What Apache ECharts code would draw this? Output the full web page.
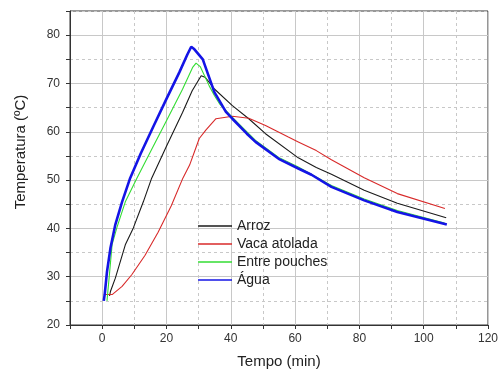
<!DOCTYPE html>
<html>
<head>
<meta charset="utf-8">
<script src="https://cdn.jsdelivr.net/npm/echarts@6/dist/echarts.min.js"></script>
<style>
  html, body { margin: 0; padding: 0; background: #fff; }
  #chart { width: 501px; height: 374px; }
</style>
</head>
<body>
<div id="chart"></div>
<script>
  // curvas de temperatura
  const arrozT    = [2.3, 2.6, 4.1, 7.2, 9.7, 12.8, 15.4, 20, 25, 28, 30.8, 32, 35, 40.5, 45.6, 50.8, 61, 66.6, 71.3, 81.5, 91.8, 107];
  const arrozTemp = [26, 27, 29.7, 36.6, 40.1, 45.5, 50.4, 57, 64, 68.5, 71.6, 71.3, 68.8, 65.4, 62.7, 59.6, 54.6, 52.6, 51.2, 47.9, 45.2, 42.2];

  const vacaT    = [0.5, 3.1, 6.2, 9.2, 13.3, 17.4, 21.5, 25.1, 27.2, 30.2, 32.3, 35.4, 40.5, 45.6, 50.8, 57.9, 61, 66.6, 71.3, 81.5, 91.8, 106.6];
  const vacaTemp = [26.3, 26.3, 28, 30.4, 34.4, 39.2, 44.7, 50.4, 53.1, 58.6, 60.4, 62.7, 63.2, 62.8, 61.3, 58.9, 57.9, 56.1, 54.2, 50.5, 47.2, 44.1];

  const entreT    = [1.5, 2.2, 3.1, 4.6, 7.2, 10.8, 15.9, 20, 25, 28.2, 29.2, 30.5, 33.3, 34.9, 36.5, 40.5, 47.7, 54.9, 61, 71.3, 81.5, 91.8, 106.5];
  const entreTemp = [25, 30, 36.7, 40.2, 45.5, 50.4, 57, 62.3, 68.8, 73.4, 74.2, 73.5, 69.5, 67.5, 65.8, 63, 58.2, 54.7, 52.7, 48.9, 46.1, 43.7, 41.1];

  const aguaT    = [0.5, 0.8, 1.5, 2.6, 4.1, 6.2, 8.7, 12, 16, 20, 24, 26.5, 27.7, 28.5, 31.3, 34.9, 38.5, 40.5, 45, 47.7, 54.9, 61, 65.1, 71.3, 81.5, 91.8, 107.2];
  const aguaTemp = [25, 26.4, 31, 36, 40.8, 45.5, 50.4, 55.5, 61.2, 66.8, 72.3, 76, 77.6, 77.2, 75, 68.2, 64.1, 62.7, 59.6, 57.9, 54.4, 52.4, 51.1, 48.6, 45.8, 43.4, 40.8];

  const seriesNames = ['Arroz', 'Vaca atolada', 'Entre pouches', 'Água'];
  const seriesColors = ['#1a1a1a', '#d82a2a', '#33dd33', '#1414e6'];

  const font = "'Liberation Sans', Arial, sans-serif";

  function pairs(xs, ys) {
    return xs.map((x, i) => [x, ys[i]]);
  }

  const curves = [
    pairs(arrozT, arrozTemp),
    pairs(vacaT, vacaTemp),
    pairs(entreT, entreTemp),
    pairs(aguaT, aguaTemp)
  ];

  var chartDom = document.getElementById('chart');
  var chart = echarts.init(chartDom);

  const option = {
    animation: false,
    grid: {
      left: 70, right: 7, top: 11, bottom: 47,
      show: true, borderColor: '#333', borderWidth: 1
    },
    legend: {
      orient: 'vertical',
      left: 193, top: 213,
      icon: 'rect',
      itemWidth: 34, itemHeight: 1.4, itemGap: 2,
      textStyle: { fontFamily: font, fontSize: 14, color: '#222', lineHeight: 16 },
      data: seriesNames
    },
    xAxis: [
      {
        type: 'value', min: -10, max: 120, interval: 10,
        name: 'Tempo (min)', nameLocation: 'middle', nameGap: 29,
        nameTextStyle: { fontFamily: font, fontSize: 15, color: '#222' },
        axisLine: { onZero: false, lineStyle: { color: '#333' } },
        axisTick: { inside: false, length: 4, lineStyle: { color: '#333' } },
        axisLabel: {
          margin: 8, fontFamily: font, fontSize: 12, color: '#333',
          formatter: v => (v % 20 === 0 ? String(v) : '')
        },
        splitLine: { show: true, lineStyle: { color: '#c8c8c8', type: [3, 3], width: 1 } }
      },
      {
        // linhas de grade cheias nos valores principais
        type: 'value', min: -10, max: 120, interval: 10, position: 'bottom',
        axisLine: { show: false }, axisTick: { show: false }, axisLabel: { show: false },
        splitLine: { show: true, lineStyle: { color: ['rgba(0,0,0,0)', '#c8c8c8'], width: 1 } }
      }
    ],
    yAxis: [
      {
        type: 'value', min: 20, max: 85, interval: 5,
        name: 'Temperatura (ºC)', nameLocation: 'middle', nameGap: 42,
        nameTextStyle: { fontFamily: font, fontSize: 15, color: '#222', padding: [0, 0, 0, 32] },
        axisLine: { show: true, onZero: false, lineStyle: { color: '#333' } },
        axisTick: { show: true, inside: false, length: 4, lineStyle: { color: '#333' } },
        axisLabel: {
          margin: 10, fontFamily: font, fontSize: 12, color: '#333',
          formatter: v => (v % 10 === 0 ? String(v) : '')
        },
        splitLine: { show: true, lineStyle: { color: '#c8c8c8', type: [3, 3], width: 1 } }
      },
      {
        type: 'value', min: 20, max: 85, interval: 5, position: 'left',
        axisLine: { show: false, onZero: false }, axisTick: { show: false }, axisLabel: { show: false },
        splitLine: { show: true, lineStyle: { color: ['#c8c8c8', 'rgba(0,0,0,0)'], width: 1 } }
      }
    ],
    series: curves.map((data, i) => ({
      name: seriesNames[i],
      type: 'line',
      xAxisIndex: 0,
      yAxisIndex: 0,
      data: data,
      symbol: 'none',
      color: seriesColors[i],
      lineStyle: { width: i === 3 ? 2.6 : 1.1, color: seriesColors[i] },
      z: 2 + i
    }))
  };

  chart.setOption(option);
</script>
</body>
</html>
